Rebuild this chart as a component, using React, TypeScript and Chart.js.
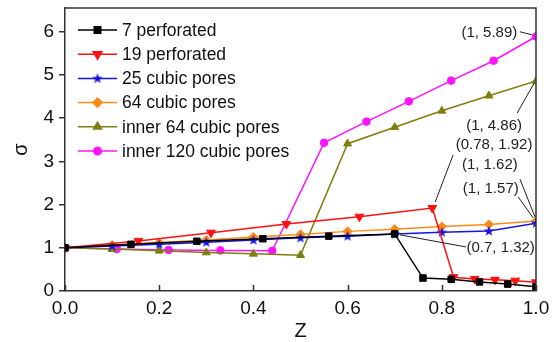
import React, { useEffect, useRef } from 'react';
import { Chart, registerables } from 'chart.js';
import { drawPoint } from 'chart.js/helpers';
Chart.register(...registerables);

// ---------- data ----------
const seriesNames = [
  '7 perforated',
  '19 perforated',
  '25 cubic pores',
  '64 cubic pores',
  'inner 64 cubic pores',
  'inner 120 cubic pores',
];

const z7 = [0, 0.14, 0.28, 0.42, 0.56, 0.7, 0.76, 0.82, 0.88, 0.94, 1.0];
const s7 = [1, 1.08, 1.15, 1.21, 1.27, 1.32, 0.3, 0.27, 0.21, 0.16, 0.1];

const z19 = [0, 0.156, 0.31, 0.47, 0.625, 0.78, 0.825, 0.87, 0.913, 0.956, 1.0];
const s19 = [1, 1.16, 1.35, 1.55, 1.72, 1.92, 0.32, 0.28, 0.26, 0.24, 0.2];

const z25 = [0, 0.1, 0.2, 0.3, 0.4, 0.5, 0.6, 0.7, 0.8, 0.9, 1.0];
const s25 = [1, 1.04, 1.08, 1.13, 1.18, 1.23, 1.27, 1.32, 1.36, 1.39, 1.57];

const z64 = [0, 0.1, 0.2, 0.3, 0.4, 0.5, 0.6, 0.7, 0.8, 0.9, 1.0];
const s64 = [1, 1.06, 1.12, 1.18, 1.25, 1.31, 1.38, 1.43, 1.49, 1.54, 1.62];

const zIn64 = [0, 0.1, 0.2, 0.3, 0.4, 0.5, 0.6, 0.7, 0.8, 0.9, 1.0];
const sIn64 = [1, 0.97, 0.93, 0.89, 0.86, 0.83, 3.41, 3.79, 4.17, 4.52, 4.86];

const zIn120 = [0, 0.11, 0.22, 0.33, 0.44, 0.55, 0.64, 0.73, 0.82, 0.91, 1.0];
const sIn120 = [1, 0.97, 0.95, 0.94, 0.93, 3.43, 3.92, 4.39, 4.87, 5.33, 5.89];

const xTickValues = [0, 0.2, 0.4, 0.6, 0.8, 1.0];
const yTickValues = [0, 1, 2, 3, 4, 5, 6];

// annotation texts, label centre (data units), leader line start/end (data units)
const annTexts = ['(1, 5.89)', '(1, 4.86)', '(0.78, 1.92)', '(1, 1.62)', '(1, 1.57)', '(0.7, 1.32)'];
const annLabel = [[0.901, 5.97], [0.911, 3.82], [0.911, 3.38], [0.902, 2.92], [0.904, 2.36], [0.925, 1.0]];
const annFrom = [[0.966, 6.0], [0.96, 4.12], [0.824, 3.15], [0.966, 2.59], [0.962, 2.18], [0.851, 1.02]];
const annTo = [[0.991, 5.93], [0.996, 4.81], [0.786, 2.06], [0.998, 1.71], [0.994, 1.69], [0.711, 1.3]];

// ---------- styles ----------
const colors = ['#000000', '#ff1010', '#1515e0', '#ff8a1a', '#7f7f10', '#ff14ff'];

function makeStar(color: string) {
  const c = document.createElement('canvas');
  c.width = 12;
  c.height = 12;
  const g = c.getContext('2d')!;
  g.fillStyle = color;
  g.beginPath();
  for (let i = 0; i < 10; i++) {
    const r = i % 2 === 0 ? 5.5 : 2.3;
    const a = -Math.PI / 2 + (i * Math.PI) / 5;
    const x = 6 + r * Math.cos(a);
    const y = 6.3 + r * Math.sin(a);
    if (i === 0) g.moveTo(x, y);
    else g.lineTo(x, y);
  }
  g.closePath();
  g.fill();
  return c;
}

const FONT = "'Liberation Sans', Arial, sans-serif";

export default function App() {
  const ref = useRef<HTMLCanvasElement | null>(null);

  useEffect(() => {
    const canvas = ref.current;
    if (!canvas) return;
    const star = makeStar(colors[2]);
    const styles: any[] = [
      { pointStyle: 'rect', radius: 4.6, rotation: 0 },
      { pointStyle: 'triangle', radius: 5, rotation: 180 },
      { pointStyle: star, radius: 5, rotation: 0 },
      { pointStyle: 'rectRot', radius: 4.6, rotation: 0 },
      { pointStyle: 'triangle', radius: 4.6, rotation: 0 },
      { pointStyle: 'circle', radius: 3.8, rotation: 0 },
    ];
    const zs = [z7, z19, z25, z64, zIn64, zIn120];
    const ss = [s7, s19, s25, s64, sIn64, sIn120];

    const datasets = seriesNames.map((name, i) => ({
      label: name,
      data: zs[i].map((x, j) => ({ x, y: ss[i][j] })),
      borderColor: colors[i],
      backgroundColor: colors[i],
      borderWidth: 1.5,
      pointStyle: styles[i].pointStyle,
      pointRadius: styles[i].radius,
      pointRotation: styles[i].rotation,
      pointBackgroundColor: colors[i],
      pointBorderColor: colors[i],
      pointBorderWidth: 1,
      tension: 0,
      fill: false,
    }));

    const framePlugin = {
      id: 'frame',
      afterDraw(chart: any) {
        const { ctx, chartArea: a, scales } = chart;
        ctx.save();
        ctx.strokeStyle = '#333';
        ctx.lineWidth = 1.5;
        ctx.beginPath();
        ctx.moveTo(a.left, a.top);
        ctx.lineTo(a.right, a.top);
        ctx.lineTo(a.right, a.bottom);
        ctx.stroke();
        // inward x ticks
        ctx.beginPath();
        scales.x.ticks.forEach((t: any) => {
          const px = Math.round(scales.x.getPixelForValue(t.value)) + 0.5;
          ctx.moveTo(px, a.bottom);
          ctx.lineTo(px, a.bottom - 6);
        });
        ctx.stroke();
        ctx.restore();
      },
    };

    const legendPlugin = {
      id: 'customLegend',
      afterDraw(chart: any) {
        const { ctx, chartArea: a } = chart;
        ctx.save();
        chart.data.datasets.forEach((ds: any, i: number) => {
          const y = a.top + 22 + i * 24.2;
          const x0 = a.left + 13;
          const x1 = a.left + 52;
          ctx.strokeStyle = ds.borderColor;
          ctx.lineWidth = 1.5;
          ctx.beginPath();
          ctx.moveTo(x0, y);
          ctx.lineTo(x1, y);
          ctx.stroke();
          ctx.fillStyle = ds.borderColor;
          ctx.strokeStyle = ds.borderColor;
          drawPoint(ctx, {
            pointStyle: ds.pointStyle,
            radius: ds.pointRadius,
            rotation: ds.pointRotation,
            borderWidth: 1,
          } as any, (x0 + x1) / 2, y);
          ctx.fillStyle = '#111';
          ctx.font = `17.5px ${FONT}`;
          ctx.textAlign = 'left';
          ctx.textBaseline = 'middle';
          ctx.fillText(ds.label, x1 + 5, y + 1);
        });
        ctx.restore();
      },
    };

    const annPlugin = {
      id: 'annotations',
      afterDraw(chart: any) {
        const { ctx, scales } = chart;
        const xs = scales.x;
        const ys = scales.y;
        ctx.save();
        ctx.strokeStyle = '#222';
        ctx.lineWidth = 1;
        ctx.fillStyle = '#222';
        ctx.font = `15px ${FONT}`;
        ctx.textAlign = 'center';
        ctx.textBaseline = 'middle';
        annTexts.forEach((t, i) => {
          ctx.beginPath();
          ctx.moveTo(xs.getPixelForValue(annFrom[i][0]), ys.getPixelForValue(annFrom[i][1]));
          ctx.lineTo(xs.getPixelForValue(annTo[i][0]), ys.getPixelForValue(annTo[i][1]));
          ctx.stroke();
          ctx.fillText(t, xs.getPixelForValue(annLabel[i][0]), ys.getPixelForValue(annLabel[i][1]));
        });
        ctx.restore();
      },
    };

    const chart = new Chart(canvas, {
      type: 'line',
      data: { datasets: datasets as any },
      options: {
        responsive: false,
        animation: false,
        layout: { padding: { top: 8, right: 17, left: 0, bottom: 0 } },
        plugins: {
          legend: { display: false },
          tooltip: { enabled: false },
        },
        scales: {
          x: {
            type: 'linear',
            min: 0,
            max: 1,
            afterBuildTicks: (s: any) => {
              s.ticks = xTickValues.map((v) => ({ value: v }));
            },
            afterFit: (s: any) => {
              s.height = 51;
              s.paddingLeft = 0;
              s.paddingRight = 0;
            },
            ticks: {
              callback: (v: any) => Number(v).toFixed(1),
              font: { family: FONT, size: 19 },
              color: '#111',
              padding: 6,
              maxRotation: 0,
            },
            grid: {
              drawOnChartArea: false,
              drawTicks: false,
            },
            border: { color: '#333', width: 1.5 },
            title: {
              display: true,
              text: 'Z',
              font: { family: FONT, size: 20, lineHeight: 1 },
              color: '#111',
              padding: { top: 0, bottom: 1 },
            },
          },
          y: {
            type: 'linear',
            min: 0,
            max: 6.55,
            afterBuildTicks: (s: any) => {
              s.ticks = yTickValues.map((v) => ({ value: v }));
            },
            afterFit: (s: any) => {
              s.width = 65;
              s.paddingTop = 0;
              s.paddingBottom = 0;
            },
            ticks: {
              font: { family: FONT, size: 19 },
              color: '#111',
              padding: 5,
            },
            grid: {
              drawOnChartArea: false,
              drawTicks: true,
              tickLength: 6,
              color: '#333',
              lineWidth: 1.5,
            },
            border: { color: '#333', width: 1.5 },
            title: {
              display: true,
              text: 'σ',
              font: { family: FONT, size: 20, lineHeight: 1 },
              color: '#111',
              padding: { top: 11, bottom: 0 },
            },
          },
        },
      },
      plugins: [framePlugin, legendPlugin, annPlugin],
    });
    return () => chart.destroy();
  }, []);

  return (
    <div style={{ position: 'absolute', left: 0, top: 0, width: 553, height: 342, background: '#fff' }}>
      <canvas ref={ref} width={553} height={342} style={{ display: 'block' }} />
    </div>
  );
}
